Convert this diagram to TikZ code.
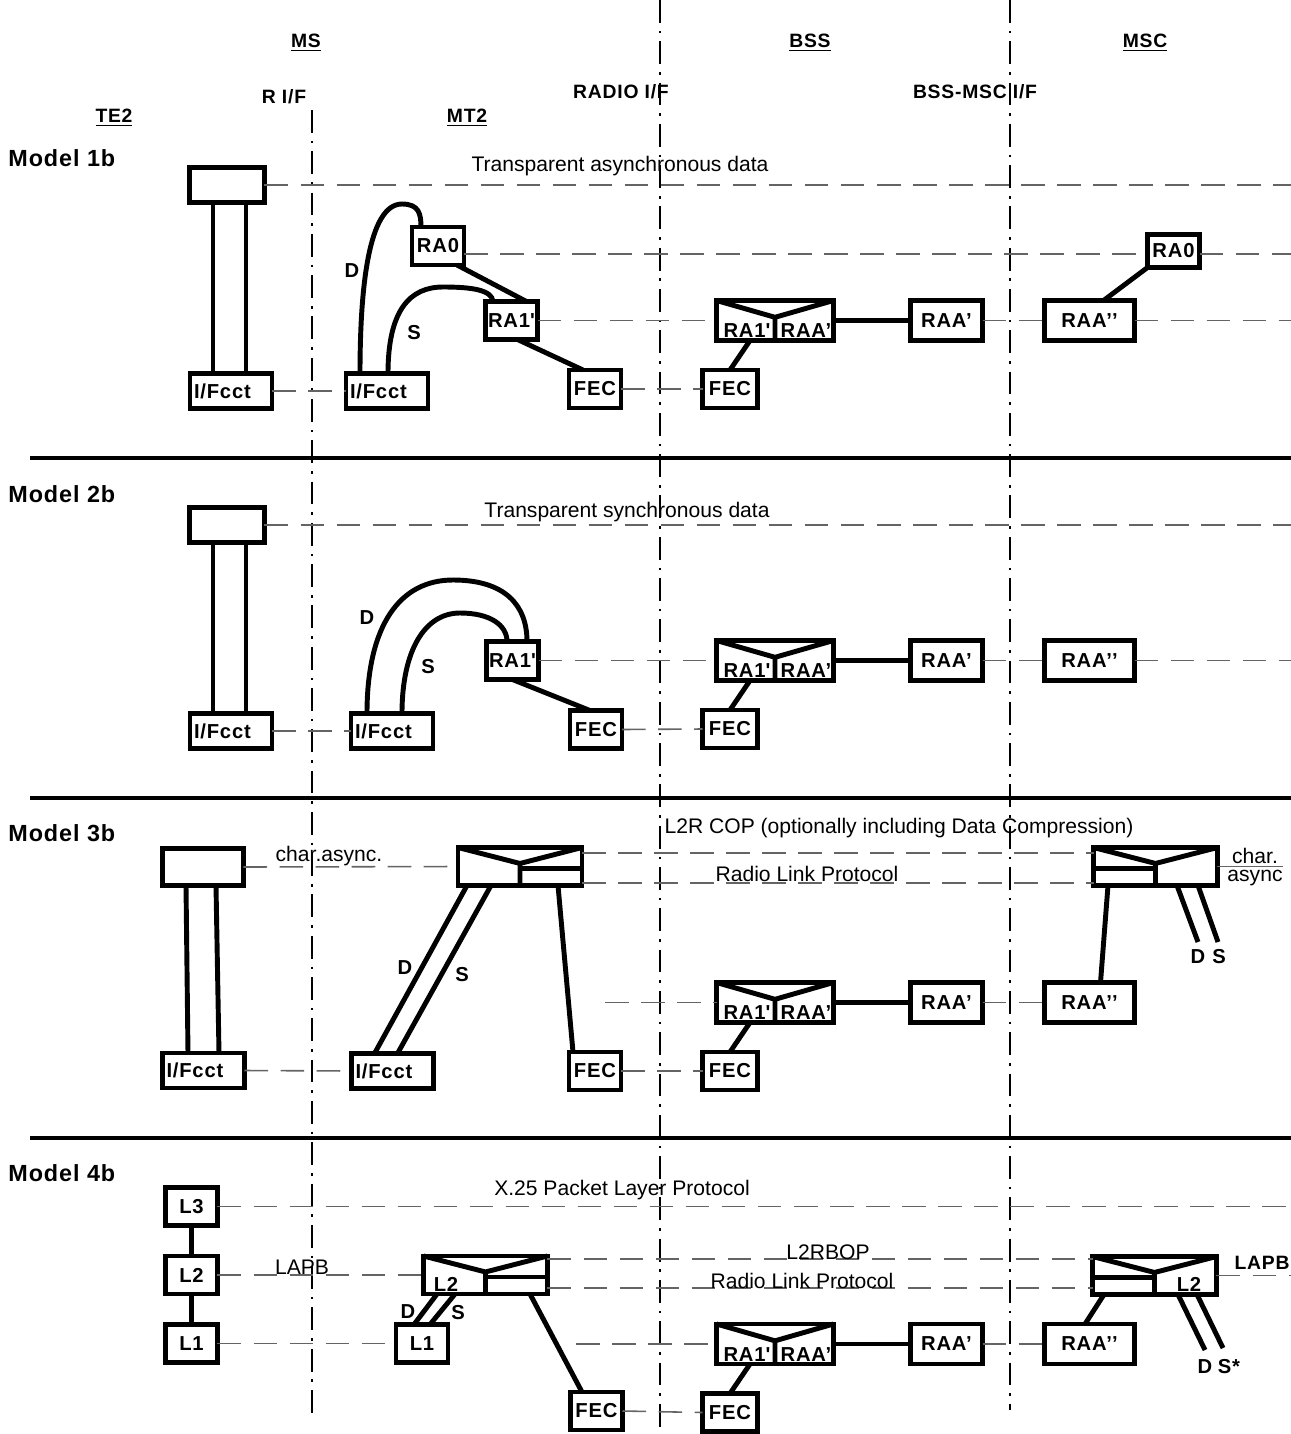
\documentclass[tikz,border=0pt]{standalone}
\usepackage{fontspec}
\setmainfont{Liberation Sans}
\newfontfamily\lblfont[LetterSpace=4]{Liberation Sans}
\usetikzlibrary{calc}
\definecolor{Guia}{RGB}{100,100,100}

% V-shaped split of a combined box
\newcommand{\vcut}[1]{%
  \coordinate (#1-v) at ($(#1.north)!0.42!(#1.south)$);
  \coordinate (#1-h) at ([shift={(0,5)}]#1-v);
  \draw[boxline] (#1.north west) -- (#1-v) -- (#1.north east);
  \draw[boxline] (#1-v) -- (#1.south);}

\begin{document}
\begin{tikzpicture}[x=0.02cm, y=-0.02cm,
    box/.style={rectangle, draw=black, line width=2.8pt, fill=white, inner sep=0pt, outer sep=0pt, font=\lblfont\bfseries\fontsize{11.5}{13}\selectfont},
    small/.style={box, minimum width=1.04cm, minimum height=0.76cm},
    ifcct/.style={box, minimum width=1.64cm, minimum height=0.7cm, text width=1.48cm, align=left},
    tebox/.style={box, minimum width=1.5cm, minimum height=0.7cm},
    raabox/.style={box, minimum width=1.44cm, minimum height=0.8cm},
    raa2box/.style={box, minimum width=1.8cm, minimum height=0.8cm},
    combo/.style={box, minimum width=2.34cm, minimum height=0.8cm},
    l2rbox/.style={box, minimum width=2.48cm, minimum height=0.76cm},
    boxline/.style={line width=2.8pt},
    link/.style={line width=2.8pt},
    layer/.style={draw=Guia, line width=0.9pt, dash pattern=on 13.5pt off 7pt},
    iface/.style={line width=0.7pt, dash pattern=on 13pt off 4.5pt on 1.5pt off 4.5pt},
    sep/.style={line width=2.6pt},
    txt/.style={inner sep=0pt, font=\fontsize{12}{14}\selectfont},
    hdr/.style={inner sep=0pt, font=\lblfont\bfseries\fontsize{11}{13}\selectfont},
    lbl/.style={inner sep=0pt, font=\lblfont\bfseries\fontsize{11.5}{13}\selectfont},
    model/.style={inner sep=0pt, anchor=west, font=\lblfont\bfseries\fontsize{13.3}{15}\selectfont}
  ]
  \useasboundingbox (0,0) rectangle (1291,1434);

  % ================= HEADERS =================
  \node[hdr] (ms) at (306,43) {\underline{MS}};
  \node[hdr] (bss) at (810,43) {\underline{BSS}};
  \node[hdr] (msc) at (1145,43) {\underline{MSC}};
  \node[hdr] (rif) at (284,97) {R I/F};
  \node[hdr] (radioif) at (621,92) {RADIO I/F};
  \node[hdr] (bscif) at (975,92) {BSS-MSC I/F};
  \node[hdr] (te) at (114,118) {\underline{TE2}};
  \node[hdr] (mt) at (467,118) {\underline{MT2}};

  % interfaces
  \draw[iface] (312,110) -- (312,1420);
  \draw[iface] (660,0) -- (660,1434);
  \draw[iface] (1010,0) -- (1010,1410);

  % separators
  \draw[sep] (30,458) -- (1291,458);
  \draw[sep] (30,798) -- (1291,798);
  \draw[sep] (30,1138) -- (1291,1138);

  \node[model] (m1) at (8,158) {Model 1b};
  \node[model] (m2) at (8,494) {Model 2b};
  \node[model] (m3) at (8,833) {Model 3b};
  \node[model] (m4) at (8,1173) {Model 4b};

  % ================= BSS SIDE (same in every model) =================
  \foreach \k/\y/\f in {1/320.5/389, 2/660.5/729, 3/1002.5/1071, 4/1344/1412.5} {
    \node[combo] (bss\k) at (775,\y) {};
    \vcut{bss\k}
    \node[lbl, anchor=base] (bss\k-l) at ([shift={(-28,-3)}]bss\k.south) {RA1\textquotesingle};
    \node[lbl, anchor=base] (bss\k-r) at ([shift={(31,-3)}]bss\k.south) {RAA’};
    \node[small, minimum width=1.1cm] (fecb\k) at (730,\f) {FEC};
    \node[raabox] (raa\k) at (946.5,\y) {RAA’};
    \node[raa2box] (raaa\k) at (1089.5,\y) {RAA’’};
    \draw[link] (bss\k.east) -- (raa\k.west);
    \draw[link] ([shift={(-25,0)}]bss\k.south) -- (fecb\k.north);
    \draw[layer] (raa\k.east) -- (raaa\k.west);
  }

  % ================= MODEL 1b =================
  \node[tebox] (te1) at (227,185) {};
  \node[ifcct] (tif1) at (231,391) {I/Fcct};
  \node[ifcct] (mif1) at (387,391) {I/Fcct};
  \node[small] (ra01) at (438,246) {RA0};
  \node[small] (ra11) at (511.5,320.5) {RA1\textquotesingle};
  \node[small] (fecm1) at (595,389) {FEC};
  \node[small, minimum height=0.66cm] (ra0c1) at (1173.5,251) {RA0};

  \draw[link] (te1.south -| 213,0) -- (tif1.north -| 213,0);
  \draw[link] (te1.south -| 246,0) -- (tif1.north -| 246,0);
  \draw[link] (mif1.north -| 360,0) .. controls (360,290) and (368,204) .. (402,204) .. controls (419,204) and (421,214) .. (ra01.north -| 421,0);
  \draw[link] (mif1.north -| 388,0) .. controls (388,310) and (410,287) .. (443,287) .. controls (472,287) and (492,290) .. (ra11.north -| 493,0);
  \draw[link] ([shift={(19,0)}]ra01.south) -- ([shift={(15,0)}]ra11.north);
  \draw[link] ([shift={(6,0)}]ra11.south) -- ([shift={(-12,0)}]fecm1.north);
  \draw[link] ([shift={(14,0)}]raaa1.north) -- (ra0c1.south west);
  \node[lbl] (d1) at (352,271) {D};
  \node[lbl] (s1) at (414,333) {S};

  \coordinate (e1a) at (1291,185);
  \coordinate (e1b) at (1291,254);
  \coordinate (e1c) at (1291,320.5);
  \draw[layer] (te1.east) -- (e1a);
  \draw[layer] (ra01.east |- 0,254) -- (ra0c1.west |- 0,254);
  \draw[layer] (ra0c1.east |- 0,254) -- (e1b);
  \draw[layer] (ra11.east) -- (bss1.west);
  \draw[layer] (raaa1.east) -- (e1c);
  \draw[layer] (tif1.east) -- (mif1.west);
  \draw[layer] (fecm1.east) -- (fecb1.west);
  \node[txt] (tad) at (620,166) {Transparent asynchronous data};

  % ================= MODEL 2b =================
  \node[tebox] (te2) at (227,525) {};
  \node[ifcct] (tif2) at (231,731) {I/Fcct};
  \node[ifcct] (mif2) at (392,731) {I/Fcct};
  \node[small] (ra12) at (512.5,660.5) {RA1\textquotesingle};
  \node[small] (fecm2) at (596,729.5) {FEC};

  \draw[link] (te2.south -| 213,0) -- (tif2.north -| 213,0);
  \draw[link] (te2.south -| 246,0) -- (tif2.north -| 246,0);
  \draw[link] (mif2.north -| 367,0) .. controls (367,625) and (400,580) .. (453,580) .. controls (505,580) and (527,605) .. (ra12.north -| 527,0);
  \draw[link] (mif2.north -| 402,0) .. controls (402,650) and (425,613) .. (460,613) .. controls (490,613) and (507,625) .. (ra12.north -| 507,0);
  \draw[link] (ra12.south) -- ([shift={(-6,0)}]fecm2.north);
  \node[lbl] (d2) at (367,618) {D};
  \node[lbl] (s2) at (428,667) {S};

  \coordinate (e2a) at (1291,525);
  \coordinate (e2b) at (1291,660.5);
  \draw[layer] (te2.east) -- (e2a);
  \draw[layer] (ra12.east) -- (bss2.west);
  \draw[layer] (raaa2.east) -- (e2b);
  \draw[layer] (tif2.east) -- (mif2.west);
  \draw[layer] (fecm2.east) -- (fecb2.west);
  \node[txt] (tsd) at (627,512) {Transparent synchronous data};

  % ================= MODEL 3b =================
  \node[tebox, minimum width=1.62cm, minimum height=0.74cm] (te3) at (203,867) {};
  \node[ifcct] (tif3) at (203.5,1070.5) {I/Fcct};
  \node[ifcct] (mif3) at (392.5,1071) {I/Fcct};
  \node[l2rbox] (l2r3) at (520,866.5) {};
  \vcut{l2r3}
  \draw[boxline] (l2r3-h) -- (l2r3-h -| l2r3.east);
  \node[small] (fecm3) at (595,1071) {FEC};
  \node[l2rbox] (msc3) at (1155.5,866.5) {};
  \vcut{msc3}
  \draw[boxline] (msc3-h) -- (msc3-h -| msc3.west);

  \draw[link] ([shift={(-17,0)}]te3.south) -- ([shift={(-15.5,0)}]tif3.north);
  \draw[link] ([shift={(13,0)}]te3.south) -- ([shift={(15.5,0)}]tif3.north);
  \draw[link] ([shift={(-53,0)}]l2r3.south) -- ([shift={(-18,0)}]mif3.north);
  \draw[link] ([shift={(-29,0)}]l2r3.south) -- ([shift={(5,0)}]mif3.north);
  \draw[link] ([shift={(38,0)}]l2r3.south) -- ([shift={(-22,0)}]fecm3.north);
  \node[lbl] (d3) at (405,968) {D};
  \node[lbl] (s3) at (462,975) {S};

  \coordinate (msc3-d) at (1198,942);
  \coordinate (msc3-s) at (1218,942);
  \draw[link] ([shift={(-47.5,0)}]msc3.south) -- ([shift={(11,0)}]raaa3.north);
  \draw[link] ([shift={(21.5,0)}]msc3.south) -- (msc3-d);
  \draw[link] ([shift={(42.5,0)}]msc3.south) -- (msc3-s);
  \node[lbl] (d3m) at (1198,957) {D};
  \node[lbl] (s3m) at (1219,957) {S};

  \coordinate (chr) at (1283,866.5);
  \draw[draw=Guia, line width=0.9pt] (msc3.east) -- (chr);
  \node[txt, anchor=base] (chr-a) at (1255,863) {char.};
  \node[txt, anchor=north] (chr-b) at (1255,870) {async};

  \coordinate (rlp3) at (605,1002.5);
  \draw[layer] (te3.east) -- (l2r3.west);
  \draw[layer] (l2r3.east |- 0,853) -- (msc3.west |- 0,853);
  \draw[layer] (l2r3.east |- 0,883) -- (msc3.west |- 0,883);
  \draw[layer] (rlp3) -- (bss3.west);
  \draw[layer] (tif3.east) -- (mif3.west);
  \draw[layer] (fecm3.east) -- (fecb3.west);
  \node[txt] (chasync) at (329,856) {char.async.};
  \node[txt] (l2rcop) at (899,828) {L2R COP (optionally including Data Compression)};
  \node[txt] (rlp3t) at (807,874) {Radio Link Protocol};

  % ================= MODEL 4b =================
  \node[small] (l3) at (191.5,1206.5) {L3};
  \node[small] (l2) at (191.5,1275) {L2};
  \node[small] (l1) at (191.5,1343.5) {L1};
  \node[l2rbox] (mt4) at (485.5,1275) {};
  \vcut{mt4}
  \draw[boxline] (mt4-h) -- (mt4-h -| mt4.east);
  \node[lbl] (mt4-l) at (446,1284) {L2};
  \node[small] (ml1) at (422,1343.5) {L1};
  \node[small] (fecm4) at (596.5,1411) {FEC};
  \node[l2rbox] (msc4) at (1154.5,1275.5) {};
  \vcut{msc4}
  \draw[boxline] (msc4-h) -- (msc4-h -| msc4.west);
  \node[lbl] (msc4-l) at (1189,1284) {L2};

  \draw[link] (l3.south) -- (l2.north);
  \draw[link] (l2.south) -- (l1.north);
  \draw[link] ([shift={(-48.5,0)}]mt4.south) -- ([shift={(-8,0)}]ml1.north);
  \draw[link] ([shift={(-30.5,0)}]mt4.south) -- ([shift={(8,0)}]ml1.north);
  \draw[link] ([shift={(44.5,0)}]mt4.south) -- ([shift={(-14.5,0)}]fecm4.north);
  \node[lbl] (d4) at (408,1312) {D};
  \node[lbl] (s4) at (458,1313) {S};

  \coordinate (msc4-d) at (1205,1350);
  \coordinate (msc4-s) at (1223,1348);
  \draw[link] ([shift={(-50.5,0)}]msc4.south) -- ([shift={(-4.5,0)}]raaa4.north);
  \draw[link] ([shift={(23.5,0)}]msc4.south) -- (msc4-d);
  \draw[link] ([shift={(42.5,0)}]msc4.south) -- (msc4-s);
  \node[lbl] (d4m) at (1205,1367) {D};
  \node[lbl] (s4m) at (1229,1367) {S*};

  \coordinate (x25) at (1291,1206.5);
  \coordinate (lapb4) at (1291,1275.5);
  \coordinate (rlp4) at (576,1344);
  \draw[layer] (l3.east) -- (x25);
  \draw[layer] (l2.east) -- (mt4.west);
  \draw[layer] (mt4.east |- 0,1259) -- (msc4.west |- 0,1259);
  \draw[layer] (mt4.east |- 0,1288) -- (msc4.west |- 0,1288);
  \draw[layer] (l1.east) -- (ml1.west);
  \draw[layer] (rlp4) -- (bss4.west);
  \draw[layer] (fecm4.east) -- (fecb4.west);
  \draw[layer] (msc4.east) -- (lapb4);
  \node[txt] (x25t) at (622,1190) {X.25 Packet Layer Protocol};
  \node[txt] (lapbt) at (302,1267) {LAPB};
  \node[txt] (l2rbop) at (828,1252) {L2RBOP};
  \node[txt] (rlp4t) at (802,1281) {Radio Link Protocol};
  \node[hdr] (lapbm) at (1262,1263) {LAPB};
\end{tikzpicture}
\end{document}
